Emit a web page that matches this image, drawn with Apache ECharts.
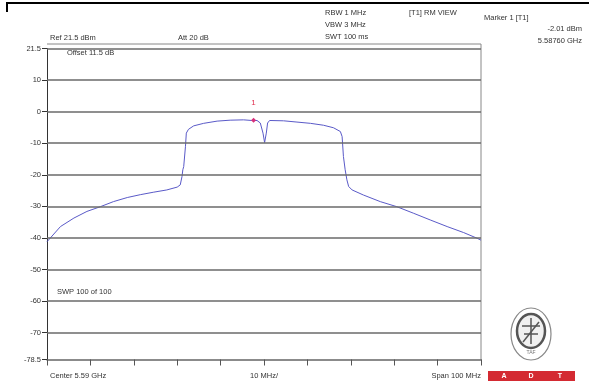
<!DOCTYPE html>
<html><head><meta charset="utf-8">
<script src="https://cdn.jsdelivr.net/npm/echarts@6/dist/echarts.min.js"></script>
<style>html,body{margin:0;padding:0;background:#fff}#c{width:589px;height:383px}</style>
</head><body><div id="c"></div>
<script>
// Frequency offset from center (MHz) and level (dBm)
const freqMHz = [-50,-49.9,-46.9,-43.8,-40.8,-37.7,-34.7,-31.5,-28.5,-25.4,-22.4,-20.0,-19.3,-18.9,-18.7,-18.5,-18.1,-17.9,-17.4,-16.2,-13.9,-10.8,-7.8,-4.7,-2.8,-1.6,-0.85,-0.23,0.14,0.53,0.83,1.29,4.5,7.6,10.7,13.7,16.0,17.6,18.0,18.3,18.7,19.1,19.5,20.3,22.9,26.8,30.6,34.5,38.3,42.2,46.0,49.1,50];
const levelDbm = [-41.2,-40.6,-36.4,-33.7,-31.6,-30.1,-28.5,-27.2,-26.3,-25.5,-24.8,-23.9,-23.2,-20.6,-18.4,-17.4,-11.1,-6.8,-5.6,-4.5,-3.7,-3.0,-2.7,-2.6,-2.8,-2.8,-3.6,-6.8,-9.8,-6.8,-3.6,-2.8,-2.9,-3.3,-3.7,-4.3,-5.1,-6.3,-7.9,-14.2,-18.4,-21.6,-23.7,-24.8,-26.4,-28.5,-30.1,-32.2,-34.3,-36.4,-38.3,-40.1,-40.7];
const gridLevels = [20,10,0,-10,-20,-30,-40,-50,-60,-70];
const yTickValues = [20,10,0,-10,-20,-30,-40,-50,-60,-70,-78.5];
const yTickLabels = ['21.5','10','0','-10','-20','-30','-40','-50','-60','-70','-78.5'];
const marker = {freq: -2.4, level: -2.7, name: '1'};
const headerTexts = ['Ref 21.5 dBm','Att 20 dB','Offset 11.5 dB','RBW 1 MHz','VBW 3 MHz','SWT 100 ms','[T1] RM VIEW','Marker 1 [T1]','-2.01 dBm','5.58760 GHz','SWP 100 of 100'];
const xAxisTexts = ['Center 5.59 GHz','10 MHz/','Span 100 MHz'];

const chart = echarts.init(document.getElementById('c'), null, {renderer:'canvas'});
const F = 'Liberation Sans, Arial, sans-serif';
const tc = '#333';
function txt(x,y,s,align,size){return {type:'text',x:x,y:y,style:{text:s,fill:tc,font:(size||7.5)+'px '+F,textAlign:align||'left',textVerticalAlign:'middle'},z:10};}
const graphics = [
  {type:'line',shape:{x1:6,y1:3,x2:589,y2:3},style:{stroke:'#000',lineWidth:2}},
  {type:'line',shape:{x1:7,y1:2,x2:7,y2:12},style:{stroke:'#000',lineWidth:2}},
  {type:'line',shape:{x1:47,y1:44,x2:481,y2:44},style:{stroke:'#888',lineWidth:1}},
  {type:'line',shape:{x1:481,y1:44,x2:481,y2:360},style:{stroke:'#888',lineWidth:1}},
  txt(50,38,headerTexts[0]), txt(178,38,headerTexts[1]), txt(67,53,headerTexts[2]),
  txt(325,13,headerTexts[3]), txt(325,25,headerTexts[4]), txt(325,37,headerTexts[5]),
  txt(409,13,headerTexts[6]), txt(484,18,headerTexts[7]),
  txt(582,29,headerTexts[8],'right'), txt(582,41,headerTexts[9],'right'),
  txt(57,292,headerTexts[10]),
  txt(50,376,xAxisTexts[0]), txt(264,376,xAxisTexts[1],'center'), txt(481,376,xAxisTexts[2],'right'),
  // certification stamp
  {type:'ellipse',shape:{cx:531,cy:334,rx:20,ry:26},style:{fill:'none',stroke:'#888',lineWidth:1.2}},
  {type:'ellipse',shape:{cx:531,cy:331,rx:14,ry:17},style:{fill:'#f0f0f0',stroke:'#555',lineWidth:2.5}},
  {type:'line',shape:{x1:522,y1:326,x2:540,y2:326},style:{stroke:'#555',lineWidth:1.5}},
  {type:'line',shape:{x1:524,y1:334,x2:538,y2:334},style:{stroke:'#555',lineWidth:1.5}},
  {type:'line',shape:{x1:531,y1:318,x2:531,y2:344},style:{stroke:'#555',lineWidth:1.5}},
  {type:'line',shape:{x1:523,y1:342,x2:539,y2:322},style:{stroke:'#555',lineWidth:1.5}},
  {type:'text',x:531,y:353,style:{text:'TAF',fill:'#777',font:'5px '+F,textAlign:'center',textVerticalAlign:'middle'}},
  {type:'rect',shape:{x:488,y:371,width:87,height:10},style:{fill:'#d42a32'}},
  {type:'text',x:504,y:376.5,style:{text:'A',fill:'#fff',font:'bold 7px '+F,textAlign:'center',textVerticalAlign:'middle'}},
  {type:'text',x:531,y:376.5,style:{text:'D',fill:'#fff',font:'bold 7px '+F,textAlign:'center',textVerticalAlign:'middle'}},
  {type:'text',x:560,y:376.5,style:{text:'T',fill:'#fff',font:'bold 7px '+F,textAlign:'center',textVerticalAlign:'middle'}}
];

chart.setOption({
  animation:false,
  backgroundColor:'#fff',
  grid:{left:47,right:108,top:48.5,bottom:23.5},
  xAxis:{type:'value',min:-50,max:50,interval:10,
    axisLine:{show:true,onZero:false,lineStyle:{color:'#666',width:1.5}},
    axisTick:{show:true,length:6,lineStyle:{color:'#555',width:1}},
    axisLabel:{show:false},splitLine:{show:false}},
  yAxis:{type:'value',min:-78.5,max:20,
    axisLine:{show:true,onZero:false,lineStyle:{color:'#333',width:1}},
    axisTick:{show:true,length:5,customValues:yTickValues,lineStyle:{color:'#333'}},
    axisLabel:{show:true,customValues:yTickValues,color:'#333',fontSize:7.5,fontFamily:F,margin:6,
      formatter:function(v){const i=yTickValues.indexOf(v);return i>=0?yTickLabels[i]:'';}},
    splitLine:{show:false}},
  series:[{
    type:'line',data:freqMHz.map((f,i)=>[f,levelDbm[i]]),
    showSymbol:false,smooth:false,
    lineStyle:{color:'#5a5ac8',width:1},
    markLine:{silent:true,symbol:['none','none'],label:{show:false},
      lineStyle:{color:'#6a6a6a',width:1.5,type:'solid'},
      data:gridLevels.map(v=>({yAxis:v}))},
    markPoint:{silent:true,symbol:'diamond',symbolSize:5,itemStyle:{color:'#d8307a'},
      label:{show:true,formatter:marker.name,position:'top',distance:11,color:'#e03050',fontSize:8,fontFamily:F},
      data:[{coord:[marker.freq,marker.level]}]}
  }],
  graphic:graphics
});
</script></body></html>
